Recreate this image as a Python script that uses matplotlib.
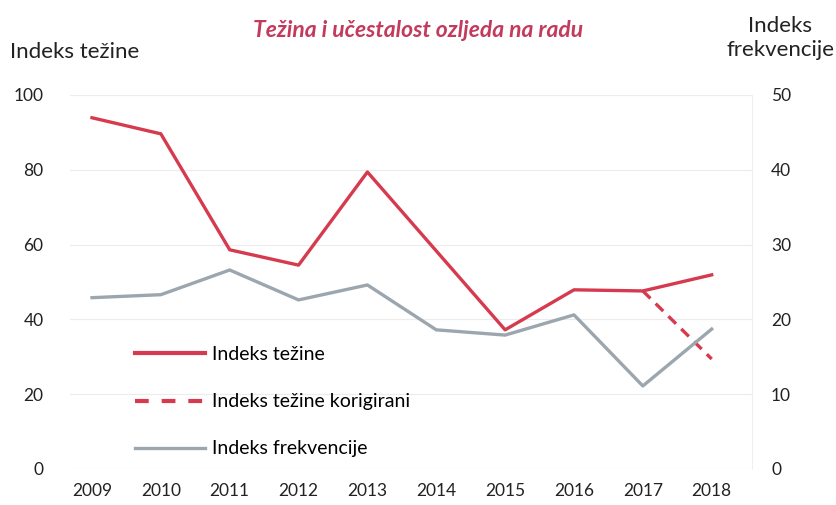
import matplotlib.pyplot as plt
from matplotlib.lines import Line2D

plt.rcParams['font.family'] = ['Lato', 'DejaVu Sans']

years = [2009, 2010, 2011, 2012, 2013, 2014, 2015, 2016, 2017, 2018]
tezina = [93.9, 89.6, 58.6, 54.5, 79.4, 58.3, 37.2, 47.9, 47.6, 51.9]
korigirani_years = [2017, 2018]
korigirani = [47.6, 29.4]
frekvencija = [22.9, 23.3, 26.6, 22.6, 24.6, 18.6, 17.9, 20.6, 11.1, 18.7]

red = '#d63a4e'
grey = '#9ba6ae'
title_col = '#c23b5c'

fig = plt.figure(figsize=(8.37, 5.05), dpi=100)
ax = fig.add_axes([0.0836, 0.0713, 0.8144, 0.7407])
ax2 = ax.twinx()

ax.plot(years, tezina, color=red, lw=2.4, solid_joinstyle='round')
ax.plot(korigirani_years, korigirani, color=red, lw=2.4, ls=(0, (3.2, 2.2)))
ax2.plot(years, frekvencija, color=grey, lw=2.4, solid_joinstyle='round')

ax.set_xlim(2008.68, 2018.58)
ax.set_ylim(0, 100)
ax2.set_ylim(0, 50)
ax.set_yticks(range(0, 101, 20))
ax2.set_yticks(range(0, 51, 10))
ax.set_xticks(years)

ax.grid(axis='y', color='#ececec', lw=0.8)
for a in (ax, ax2):
    for s in a.spines.values():
        s.set_visible(False)
    a.tick_params(length=0, labelsize=12.5, colors='#222222')
ax2.spines['right'].set_visible(True)
ax2.spines['right'].set_color('#efefef')
ax.tick_params(axis='y', pad=19)
ax.tick_params(axis='x', pad=10)
ax2.tick_params(axis='y', pad=14)

handles = [
    Line2D([], [], color=red, lw=3.0),
    Line2D([], [], color=red, lw=3.0, ls=(0, (3.3, 3.1))),
    Line2D([], [], color=grey, lw=2.4),
]
labels = ['Indeks težine', 'Indeks težine korigirani', 'Indeks frekvencije']
ax2.legend(handles, labels, loc='lower left', bbox_to_anchor=(0.07, -0.016),
           frameon=False, fontsize=14, handlelength=3.6, handletextpad=0.35,
           labelspacing=1.55)

fig.text(0.499, 0.94, 'Težina i učestalost ozljeda na radu', ha='center', va='center',
         fontsize=16.5, fontweight='bold', style='italic', color=title_col)
fig.text(0.012, 0.897, 'Indeks težine', ha='left', va='center', fontsize=16, color='#222222')
fig.text(0.997, 0.925, 'Indeks\nfrekvencije', ha='right', va='center', fontsize=16,
         multialignment='center', color='#222222', linespacing=1.25)

fig.savefig('out.png', dpi=100, facecolor='white')
